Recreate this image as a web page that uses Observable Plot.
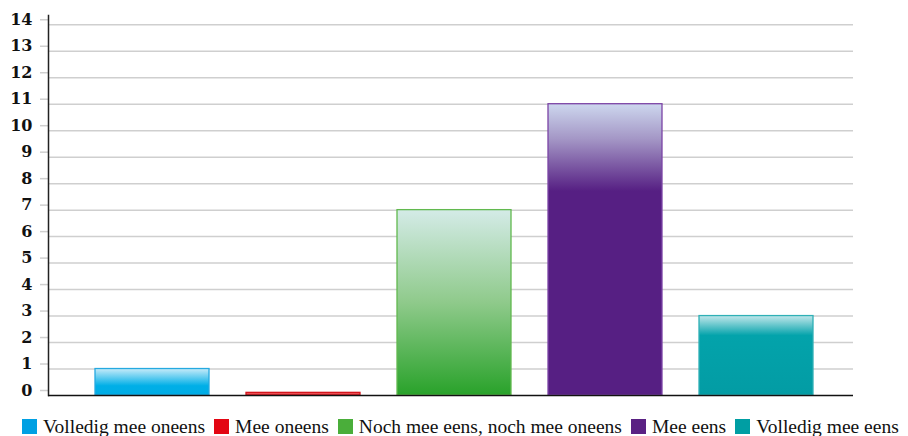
<!DOCTYPE html>
<html>
<head>
<meta charset="utf-8">
<script src="https://cdn.jsdelivr.net/npm/d3@7"></script>
<script src="https://cdn.jsdelivr.net/npm/@observablehq/plot@0.6"></script>
<style>
  html, body { margin: 0; padding: 0; background: #fff; }
  #wrap { position: relative; width: 908px; height: 436px; overflow: hidden; }
  #legend { position: absolute; left: 22px; top: 417px; height: 20px; line-height: 20px;
    font-family: "Liberation Serif", "Times New Roman", serif; font-size: 19.5px; color: #111; white-space: nowrap; }
  .item { display: inline-block; margin-right: 9px; }
  .sw { display: inline-block; width: 15px; height: 15px; vertical-align: -1px; margin-right: 6px; }
</style>
</head>
<body>
<div id="wrap"><div id="chart"></div><div id="legend"></div></div>
<script>
const categories = ["Volledig mee oneens", "Mee oneens", "Noch mee eens, noch mee oneens", "Mee eens", "Volledig mee eens"];
const values = [1, 0.1, 7, 11, 3];
const yTicks = [0, 1, 2, 3, 4, 5, 6, 7, 8, 9, 10, 11, 12, 13, 14];
const legendColors = ["#00a0e3", "#e30613", "#4aae3a", "#5a2183", "#009ea3"];
const strokeColors = ["#25a9e0", "#d4151d", "#62b94f", "#7b44a6", "#2fb0b6"];
const gradientStops = [
  [[0, "#c8ebf9"], [0.65, "#00afe7"], [1, "#00ace5"]],
  [[0, "#ef5257"], [1, "#e8454a"]],
  [[0, "#d4ebe7"], [0.5, "#8fca8b"], [1, "#29a22a"]],
  [[0, "#cdd7ee"], [0.12, "#a497c6"], [0.3, "#561f83"], [1, "#561f83"]],
  [[0, "#c2e7eb"], [0.25, "#03a3ab"], [1, "#039ca4"]]
];

const data = categories.map((c, i) => ({
  category: c,
  value: values[i],
  fill: `url(#grad-${i})`,
  stroke: strokeColors[i]
}));

const chart = Plot.plot({
  width: 908,
  height: 405,
  marginLeft: 48,
  marginRight: 55,
  marginTop: 15,
  marginBottom: 10,
  style: { background: "white", fontFamily: "DejaVu Serif", fontSize: "16px", color: "#111" },
  x: { domain: categories, paddingInner: 0.245, paddingOuter: 0.288, align: 0.54, axis: null },
  y: { domain: [0, 14.35], axis: null },
  color: { type: "identity" },
  marks: [
    Plot.ruleY(yTicks.slice(1), { stroke: "#cfcfcf", strokeWidth: 1.5 }),
    Plot.axisY(yTicks, {
      anchor: "left", label: null, tickSize: 8, tickPadding: 8, stroke: "#cfcfcf", strokeWidth: 1.5,
      fill: "#111", fontWeight: "bold", fontSize: 16, fontFamily: "DejaVu Serif", dy: -5,
      tickFormat: d => String(d)
    }),
    Plot.barY(data, { x: "category", y: "value", fill: "fill", stroke: "stroke", strokeWidth: 1.3 }),
    Plot.frame({ anchor: "left", stroke: "#222", strokeWidth: 1.5 }),
    Plot.ruleY([0], { stroke: "#111", strokeWidth: 1.5 })
  ]
});

const defs = d3.select(chart).insert("defs", ":first-child");
gradientStops.forEach((stops, i) => {
  const g = defs.append("linearGradient").attr("id", `grad-${i}`)
    .attr("x1", 0).attr("y1", 0).attr("x2", 0).attr("y2", 1);
  stops.forEach(([o, c]) => g.append("stop").attr("offset", o).attr("stop-color", c));
});
document.getElementById("chart").appendChild(chart);

const legend = d3.select("#legend");
categories.forEach((c, i) => {
  const it = legend.append("span").attr("class", "item");
  it.append("span").attr("class", "sw").style("background", legendColors[i]);
  it.append("span").text(c);
});
</script>
</body>
</html>
